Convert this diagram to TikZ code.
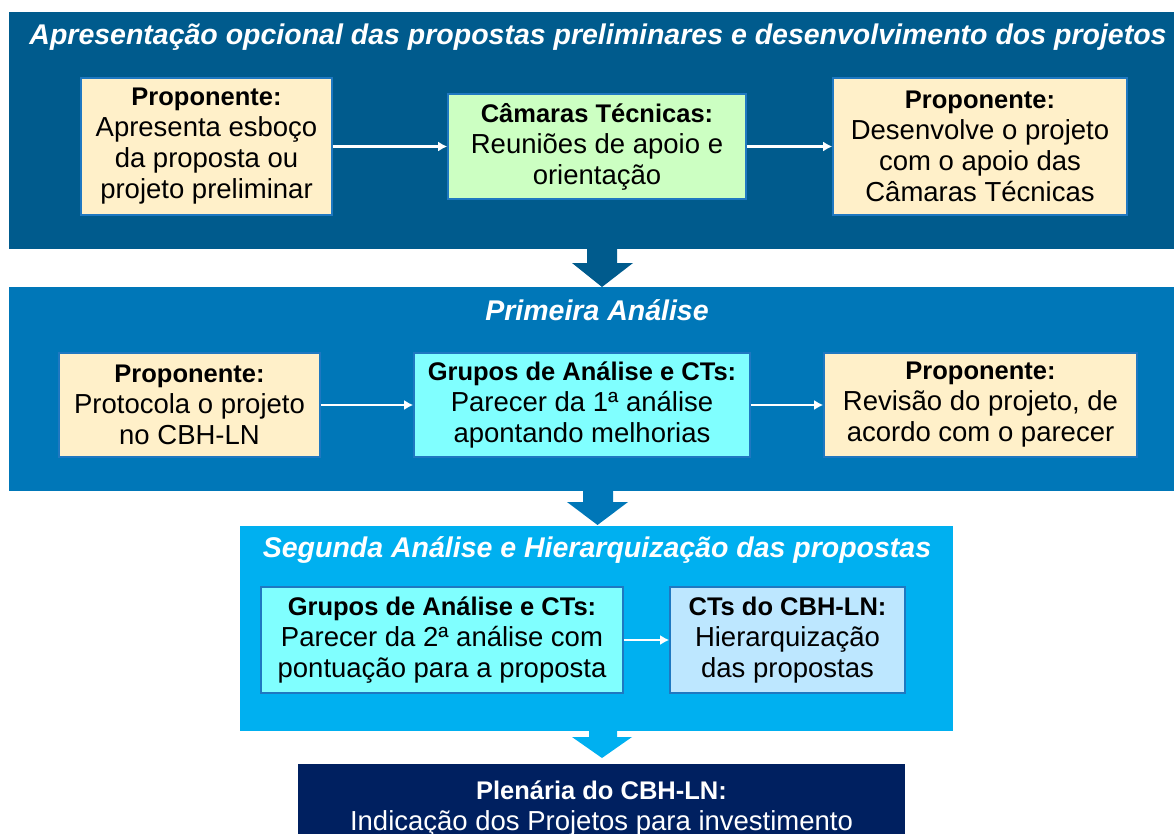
\documentclass[tikz,border=0pt]{standalone}
\usepackage{fontspec}
\setmainfont{Liberation Sans}
\usetikzlibrary{arrows.meta}

\definecolor{panelA}{RGB}{0,91,141}
\definecolor{panelB}{RGB}{0,119,184}
\definecolor{panelC}{RGB}{0,176,240}
\definecolor{plenaria}{RGB}{0,32,96}
\definecolor{cream}{RGB}{255,240,201}
\definecolor{paleGreen}{RGB}{204,255,194}
\definecolor{paleCyan}{RGB}{128,255,255}
\definecolor{paleBlue}{RGB}{189,231,255}
\definecolor{boxline}{RGB}{31,120,193}

% bold heading line inside a box
\newcommand{\boxhead}[1]{{\fontsize{25.5}{31}\selectfont\bfseries #1}}

\tikzset{
  panel/.style={inner sep=0pt, outer sep=0pt},
  stepbox/.style={draw=boxline, line width=1.6pt, align=center, inner sep=0pt},
  title/.style={text=white, font=\fontsize{28.5}{31}\selectfont\bfseries\itshape},
  flow/.style={white, line width=2.6pt, -{Latex[length=9pt,width=10pt]}},
}

\begin{document}
\begin{tikzpicture}[x=1pt, y=-1pt, font=\fontsize{27.5}{31}\selectfont]
  \useasboundingbox (0,0) rectangle (1174,834);

  % Panels
  \node[panel, fill=panelA, minimum width=1165, minimum height=237] (p1) at (591.5,130.5) {};
  \node[panel, fill=panelB, minimum width=1165, minimum height=204] (p2) at (591.5,389) {};
  \node[panel, fill=panelC, minimum width=713, minimum height=205] (p3) at (596.5,628.5) {};

  % Block arrows between panels
  \fill[panelA] (587,249) -- (617,249) -- (617,263) -- (633,263) -- (602,287)
    -- (572,263) -- (587,263) -- cycle;
  \fill[panelB] (583,491) -- (613,491) -- (613,502) -- (628,502) -- (597.5,525)
    -- (567,502) -- (583,502) -- cycle;
  \fill[panelC] (589,731) -- (617,731) -- (617,737) -- (632,737) -- (602,758)
    -- (572,737) -- (589,737) -- cycle;

  % Titles
  \node[title] (t1) at (598,37) {Apresentação opcional das propostas preliminares e desenvolvimento dos projetos};
  \node[title] (t2) at (597,310) {Primeira Análise};
  \node[title] (t3) at (597,550) {Segunda Análise e Hierarquização das propostas};

  % Apresentacao opcional
  \node[stepbox, fill=cream, minimum width=251, minimum height=137] (b11) at (206.5,146.5)
    {\boxhead{Proponente:}\\Apresenta esboço\\da proposta ou\\projeto preliminar};
  \node[stepbox, fill=paleGreen, minimum width=298, minimum height=105] (b12) at (597,146.5)
    {\boxhead{Câmaras Técnicas:}\\Reuniões de apoio e\\orientação};
  \node[stepbox, fill=cream, minimum width=294, minimum height=137] (b13) at (980,146.5)
    {\boxhead{Proponente:}\\Desenvolve o projeto\\com o apoio das\\Câmaras Técnicas};

  % Primeira analise
  \node[stepbox, fill=cream, minimum width=261, minimum height=104] (b21) at (189.5,405)
    {\boxhead{Proponente:}\\Protocola o projeto\\no CBH-LN};
  \node[stepbox, fill=paleCyan, minimum width=336, minimum height=104] (b22) at (582,405)
    {\boxhead{Grupos de Análise e CTs:}\\Parecer da 1ª análise\\apontando melhorias};
  \node[stepbox, fill=cream, minimum width=313, minimum height=104] (b23) at (980.5,405)
    {\boxhead{Proponente:}\\Revisão do projeto, de\\acordo com o parecer};

  % Segunda analise
  \node[stepbox, fill=paleCyan, minimum width=362, minimum height=106] (b31) at (442,640)
    {\boxhead{Grupos de Análise e CTs:}\\Parecer da 2ª análise com\\pontuação para a proposta};
  \node[stepbox, fill=paleBlue, minimum width=235, minimum height=106] (b32) at (787.5,640)
    {\boxhead{CTs do CBH-LN:}\\Hierarquização\\das propostas};

  % Plenaria (cut at the bottom)
  \node[panel, fill=plenaria, minimum width=607, minimum height=80] (b4) at (601.5,804) {};
  \node[text=white, align=center, anchor=north] (t4) at (601.5,777)
    {\boxhead{Plenária do CBH-LN:}\\Indicação dos Projetos para investimento};

  % Flow inside panels
  \draw[flow] (b11) -- (b12);
  \draw[flow] (b12) -- (b13);
  \draw[flow] (b21) -- (b22);
  \draw[flow] (b22) -- (b23);
  \draw[flow] (b31) -- (b32);
\end{tikzpicture}
\end{document}
